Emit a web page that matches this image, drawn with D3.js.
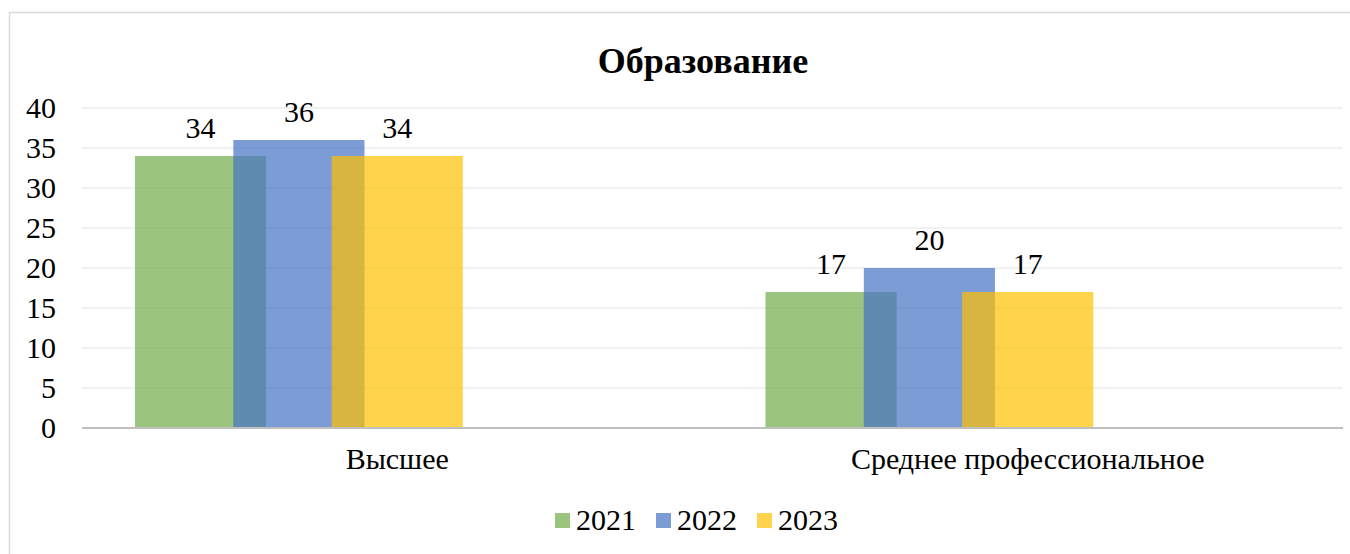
<!DOCTYPE html>
<html>
<head>
<meta charset="utf-8">
<script src="https://cdn.jsdelivr.net/npm/d3@7/dist/d3.min.js"></script>
</head>
<body style="margin:0">
<script>
var categories = ["Высшее", "Среднее профессиональное"];
var years = ["2021", "2022", "2023"];
var values2021 = [34, 17];
var values2022 = [36, 20];
var values2023 = [34, 17];
var yTicks = [0, 5, 10, 15, 20, 25, 30, 35, 40];

var series = [values2021, values2022, values2023];
var colors = ["rgba(112,173,71,0.7)", "rgba(68,114,196,0.7)", "rgba(255,192,0,0.7)"];
var font = "'Liberation Serif', 'Tinos', 'Times New Roman', 'DejaVu Serif', serif";

var width = 1350, height = 554;

var svg = d3.select("body").append("svg")
  .attr("width", width)
  .attr("height", height);

// chart border (only top and left are visible in the frame)
svg.append("path")
  .attr("d", "M9.5,554 L9.5,12.5 L1350,12.5")
  .attr("fill", "none")
  .attr("stroke", "#d9d9d9")
  .attr("stroke-width", 1.5);

var x = d3.scaleBand()
  .domain(categories)
  .range([82, 1343]);

var y = d3.scaleLinear()
  .domain([0, 40])
  .range([428, 108]);

var bw = x.bandwidth();
var barW = bw * 0.208;
// bars overlap each other inside a group
var xs = d3.scaleLinear()
  .domain([0, 2])
  .range([bw * 0.084, bw * 0.084 + 2 * bw * 0.156]);

// grid
svg.append("g")
  .selectAll("line")
  .data(yTicks.filter(function(d) { return d > 0; }))
  .enter().append("line")
  .attr("x1", 82).attr("x2", 1343)
  .attr("y1", function(d) { return y(d); })
  .attr("y2", function(d) { return y(d); })
  .attr("stroke", "#ececec")
  .attr("stroke-width", 1.5);

// y labels
var yAxis = d3.axisLeft(y).tickValues(yTicks).tickSize(0).tickPadding(0);
var yg = svg.append("g")
  .attr("transform", "translate(56,0)")
  .call(yAxis)
  .attr("font-family", null)
  .attr("font-size", null);
yg.select(".domain").remove();
yg.selectAll("text")
  .style("font-family", font)
  .style("font-size", "30px")
  .style("fill", "#000");

// bars
series.forEach(function(vals, si) {
  svg.append("g")
    .selectAll("rect")
    .data(vals)
    .enter().append("rect")
    .attr("x", function(d, i) { return x(categories[i]) + xs(si); })
    .attr("y", function(d) { return y(d); })
    .attr("width", barW)
    .attr("height", function(d) { return y(0) - y(d); })
    .attr("fill", colors[si]);
});

// data labels
series.forEach(function(vals, si) {
  svg.append("g")
    .selectAll("text")
    .data(vals)
    .enter().append("text")
    .style("font-family", font)
    .style("font-size", "30px")
    .attr("x", function(d, i) { return x(categories[i]) + xs(si) + barW / 2; })
    .attr("y", function(d) { return y(d) - 18; })
    .attr("text-anchor", "middle")
    .text(function(d) { return d; });
});

// x axis line
svg.append("line")
  .attr("x1", 82).attr("x2", 1343)
  .attr("y1", y(0)).attr("y2", y(0))
  .attr("stroke", "#bfbfbf")
  .attr("stroke-width", 2);

var xAxis = d3.axisBottom(x).tickSize(0).tickPadding(0);
var xg = svg.append("g")
  .attr("transform", "translate(0,448)")
  .call(xAxis)
  .attr("font-family", null)
  .attr("font-size", null);
xg.select(".domain").remove();
xg.selectAll("text")
  .style("font-family", font)
  .style("font-size", "30px")
  .style("fill", "#000");

// title
svg.append("text")
  .style("font-family", font)
  .style("font-size", "36px")
  .style("font-weight", "bold")
  .attr("x", 703)
  .attr("y", 73)
  .attr("text-anchor", "middle")
  .text("Образование");

// legend
var legendX = [555, 656, 757];
var legend = svg.append("g")
  .selectAll("g")
  .data(years)
  .enter().append("g")
  .attr("transform", function(d, i) { return "translate(" + legendX[i] + ",513)"; });
legend.append("rect")
  .attr("width", 15).attr("height", 15)
  .attr("fill", function(d, i) { return colors[i]; });
legend.append("text")
  .style("font-family", font)
  .style("font-size", "30px")
  .attr("x", 21)
  .attr("y", 17)
  .text(function(d) { return d; });
</script>
</body>
</html>
